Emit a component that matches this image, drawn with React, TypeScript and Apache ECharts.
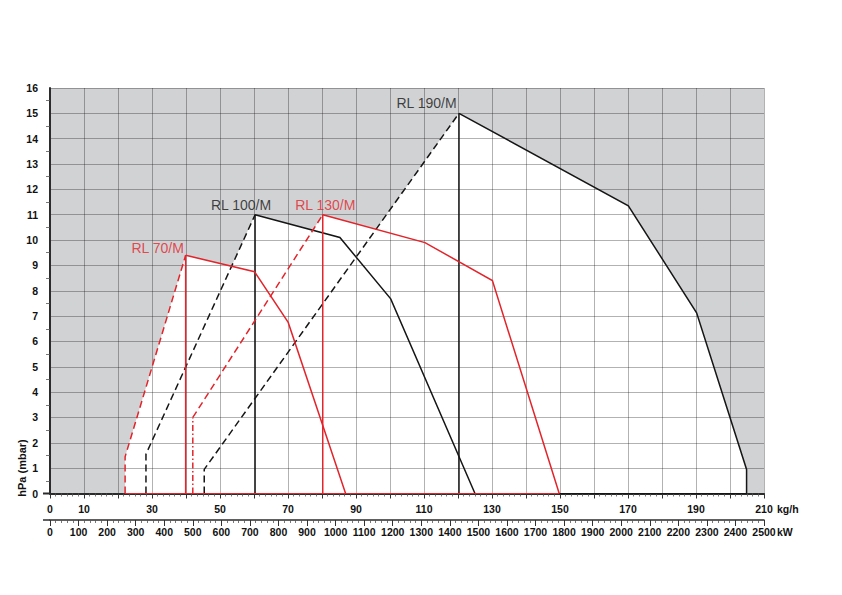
import React, { useEffect, useRef } from "react";
import * as echarts from "echarts";

// ---- axis data ----
const kgRange = [0, 210];
const kwRange = [0, 2500];
const hpaRange = [0, 16];
const kgTickLabels = [0, 10, 30, 50, 70, 90, 110, 130, 150, 170, 190, 210];

// ---- burner envelopes: [kW, hPa] ----
// RL 70/M (red)
const rl70Min = [[263, 0], [263, 1.45], [475, 9.4]];
const rl70Mod = [[475, 9.4], [475, 0]];
const rl70Max = [[475, 9.4], [716, 8.75], [834, 6.75], [1035, 0]];
// RL 100/M (black)
const rl100Min = [[336, 0], [336, 1.55], [718, 11]];
const rl100Mod = [[718, 11], [718, 0]];
const rl100Max = [[718, 11], [1015, 10.1], [1193, 7.68], [1488, 0]];
// RL 130/M (red)
const rl130Start = [[500, 0], [500, 3]];
const rl130Min = [[500, 3], [955, 11]];
const rl130Mod = [[955, 11], [955, 0]];
const rl130Max = [[955, 11], [1313, 9.9], [1549, 8.4], [1783, 0]];
// RL 190/M (black)
const rl190Min = [[540, 0], [540, 0.95], [1432, 15]];
const rl190Mod = [[1432, 15], [1432, 0]];
const rl190Max = [[1432, 15], [2025, 11.35], [2264, 7.13], [2439, 0.95], [2439, 0]];

const burnerNames = ["RL 70/M", "RL 100/M", "RL 130/M", "RL 190/M"];

const RED = "#e3242b";
const BLACK = "#161616";
const FONT = "'Liberation Sans', Arial, Helvetica, sans-serif";

const outline = (...parts: number[][][]) => {
  const out: number[][] = [];
  parts.forEach((p, i) => (i === 0 ? p : p.slice(1)).forEach((q) => out.push(q)));
  return out;
};

const areaSeries = (data: number[][]) => ({
  type: "line",
  xAxisIndex: 1,
  yAxisIndex: 0,
  data,
  symbol: "none",
  silent: true,
  z: 1,
  lineStyle: { width: 0, opacity: 0 },
  areaStyle: { color: "#ffffff", opacity: 1 },
});

const strokeSeries = (data: number[][], color: string, type: any, width = 1.5) => ({
  type: "line",
  xAxisIndex: 1,
  yAxisIndex: 0,
  data,
  symbol: "none",
  silent: true,
  z: 3,
  lineStyle: { color, width, type, cap: "butt", join: "miter" },
});

const bottom = (minPts: number[][], maxPts: number[][]) => [
  [minPts[0][0], 0],
  [maxPts[maxPts.length - 1][0], 0],
];

const DASH = [7, 4];
const DASHDOT = [6, 2.5, 1.5, 2.5];

export default function App() {
  const ref = useRef<HTMLDivElement>(null);

  useEffect(() => {
    if (!ref.current) return;
    const chart = echarts.init(ref.current, undefined, { renderer: "svg" });
    const labelStyle = {
      fontFamily: FONT,
      fontSize: 10.5,
      fontWeight: "bold",
      color: "#111",
    };
    const splitLine = { show: true, lineStyle: { color: "rgba(0,0,0,0.3)", width: 1 } };

    const option: any = {
      animation: false,
      grid: {
        left: 50,
        top: 88,
        width: 714,
        height: 405.5,
        show: true,
        backgroundColor: "#d1d2d4",
        borderWidth: 0,
        containLabel: false,
      },
      xAxis: [
        {
          type: "value",
          gridIndex: 0,
          position: "bottom",
          min: kgRange[0],
          max: kgRange[1],
          interval: 10,
          z: 2,
          axisLine: { show: true, onZero: false, lineStyle: { color: "#2b2b2b", width: 2 } },
          axisTick: { show: true, length: 5, lineStyle: { color: "#333", width: 1 } },
          minorTick: { show: true, splitNumber: 6, length: 3, lineStyle: { color: "#555", width: 0.8 } },
          splitLine,
          axisLabel: {
            ...labelStyle,
            margin: 9.5,
            formatter: (v: number) => (kgTickLabels.includes(v) ? String(v) : ""),
          },
        },
        {
          type: "value",
          gridIndex: 0,
          position: "bottom",
          offset: 26.5,
          min: kwRange[0],
          max: kwRange[1],
          interval: 100,
          z: 2,
          axisLine: { show: true, onZero: false, lineStyle: { color: "#2b2b2b", width: 1.5 } },
          axisTick: { show: true, length: 6, lineStyle: { color: "#333", width: 1 } },
          minorTick: { show: true, splitNumber: 5, length: 3, lineStyle: { color: "#555", width: 0.8 } },
          splitLine: { show: false },
          axisLabel: { ...labelStyle, margin: 6.5, formatter: (v: number) => String(v) },
        },
      ],
      yAxis: [
        {
          type: "value",
          gridIndex: 0,
          min: hpaRange[0],
          max: hpaRange[1],
          interval: 1,
          z: 2,
          axisLine: { show: true, onZero: false, lineStyle: { color: "#2b2b2b", width: 2 } },
          axisTick: { show: false },
          minorTick: { show: true, splitNumber: 2, length: 4, lineStyle: { color: "#555", width: 0.8 } },
          splitLine,
          axisLabel: { ...labelStyle, margin: 12, formatter: (v: number) => String(v) },
        },
      ],
      graphic: [
        {
          type: "text",
          x: 22,
          y: 468,
          rotation: Math.PI / 2,
          style: {
            text: "hPa (mbar)",
            fontFamily: FONT,
            fontSize: 11,
            fontWeight: "bold",
            fill: "#111",
            align: "center",
            verticalAlign: "middle",
            textAlign: "center",
            textVerticalAlign: "middle",
          },
        },
        {
          type: "text",
          x: 777,
          y: 509,
          style: {
            text: "kg/h",
            fontFamily: FONT,
            fontSize: 10.5,
            fontWeight: "bold",
            fill: "#111",
            align: "left",
            verticalAlign: "middle",
            textAlign: "left",
            textVerticalAlign: "middle",
          },
        },
        {
          type: "text",
          x: 777,
          y: 532,
          style: {
            text: "kW",
            fontFamily: FONT,
            fontSize: 10.5,
            fontWeight: "bold",
            fill: "#111",
            align: "left",
            verticalAlign: "middle",
            textAlign: "left",
            textVerticalAlign: "middle",
          },
        },
        {
          type: "line",
          shape: { x1: 43, y1: 493.5, x2: 50, y2: 493.5 },
          style: { stroke: "#2b2b2b", lineWidth: 2 },
          z: 5,
        },
        {
          type: "line",
          shape: { x1: 43, y1: 520, x2: 50, y2: 520 },
          style: { stroke: "#2b2b2b", lineWidth: 1.5 },
          z: 5,
        },
      ],
      series: [
        areaSeries(outline(rl70Min, rl70Max)),
        areaSeries(outline(rl100Min, rl100Max)),
        areaSeries(outline(rl130Start, rl130Min, rl130Max)),
        areaSeries(outline(rl190Min, rl190Max)),
        // black burners
        strokeSeries(bottom(rl190Min, rl190Max), BLACK, "solid", 1),
        strokeSeries(bottom(rl100Min, rl100Max), BLACK, "solid", 1),
        strokeSeries(rl190Min, BLACK, DASH),
        strokeSeries(rl190Mod, BLACK, "solid"),
        strokeSeries(rl190Max, BLACK, "solid"),
        strokeSeries(rl100Min, BLACK, DASH),
        strokeSeries(rl100Mod, BLACK, "solid"),
        strokeSeries(rl100Max, BLACK, "solid"),
        // red burners
        strokeSeries(bottom(rl130Start, rl130Max), RED, "solid", 1),
        strokeSeries(bottom(rl70Min, rl70Max), RED, "solid", 1),
        strokeSeries(rl70Min, RED, DASH),
        strokeSeries(rl70Mod, RED, "solid"),
        strokeSeries(rl70Max, RED, "solid"),
        strokeSeries(rl130Start, RED, DASHDOT),
        strokeSeries(rl130Min, RED, DASH),
        strokeSeries(rl130Mod, RED, "solid"),
        strokeSeries(rl130Max, RED, "solid"),
        {
          type: "scatter",
          xAxisIndex: 1,
          yAxisIndex: 0,
          symbolSize: 0,
          silent: true,
          z: 4,
          label: {
            show: true,
            position: "inside",
            fontFamily: FONT,
            fontSize: 14,
            formatter: (p: any) => p.name,
          },
          data: [
            { name: burnerNames[0], value: rl70Max[0], label: { color: RED, offset: [-28, -7] } },
            { name: burnerNames[1], value: rl100Max[0], label: { color: BLACK, offset: [-14, -9.5] } },
            { name: burnerNames[2], value: rl130Max[0], label: { color: RED, offset: [2.5, -9.5] } },
            { name: burnerNames[3], value: rl190Max[0], label: { color: BLACK, offset: [-32.5, -10] } },
          ],
        },
      ],
    };
    chart.setOption(option);
    return () => chart.dispose();
  }, []);

  return (
    <div
      ref={ref}
      style={{ position: "absolute", left: 0, top: 0, width: 842, height: 595, background: "#fff" }}
    />
  );
}
